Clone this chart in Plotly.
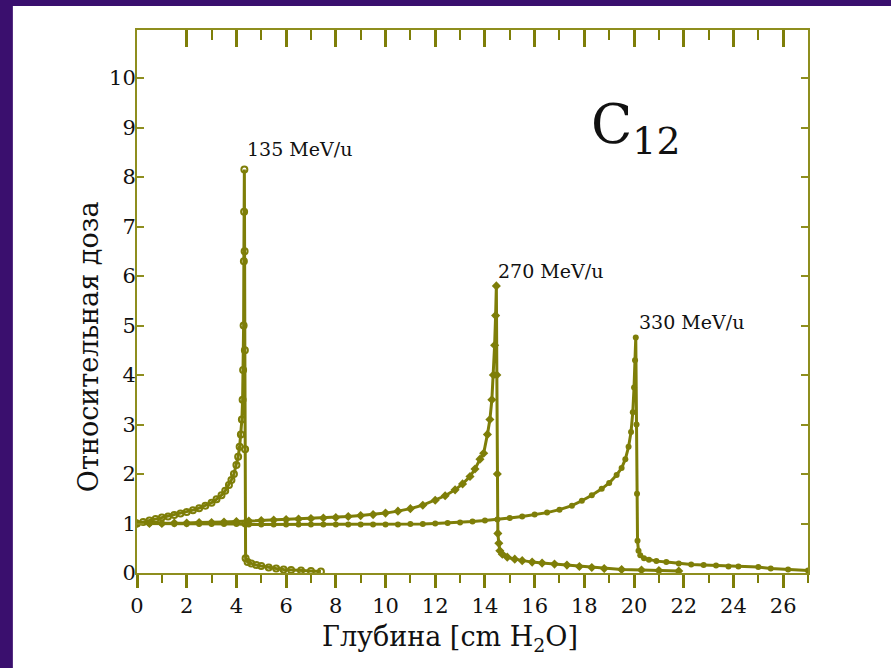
import plotly.graph_objects as go

# ---- data ----
x135 = [0, 0.25, 0.5, 0.75, 1.0, 1.25, 1.5, 1.75, 2.0, 2.25, 2.5, 2.75, 3.0, 3.2, 3.4, 3.55,
        3.7, 3.8, 3.9, 4.0, 4.07, 4.13, 4.18, 4.22, 4.25, 4.27, 4.29, 4.30, 4.31, 4.32, 4.33,
        4.34, 4.35, 4.36, 4.37, 4.45, 4.6, 4.8, 5.0, 5.3, 5.6, 5.9, 6.2, 6.6, 7.0, 7.4]
y135 = [1.00, 1.03, 1.06, 1.09, 1.12, 1.14, 1.17, 1.20, 1.23, 1.27, 1.31, 1.36, 1.42, 1.49, 1.57, 1.66,
        1.78, 1.88, 2.00, 2.18, 2.35, 2.55, 2.80, 3.10, 3.50, 4.10, 5.00, 6.30, 7.30, 8.15, 6.50,
        4.50, 2.50, 1.00, 0.30, 0.22, 0.19, 0.16, 0.14, 0.11, 0.09, 0.07, 0.06, 0.05, 0.04, 0.03]

x270 = [0, 0.5, 1, 1.5, 2, 2.5, 3, 3.5, 4, 4.5, 5, 5.5, 6, 6.5, 7, 7.5, 8, 8.5, 9, 9.5, 10, 10.5,
        11, 11.5, 12, 12.4, 12.8, 13.1, 13.4, 13.6, 13.8, 13.95, 14.1, 14.2, 14.28, 14.34, 14.39,
        14.43, 14.46, 14.48, 14.5, 14.52, 14.56, 14.6, 14.7, 14.9, 15.2, 15.5, 15.9, 16.3, 16.8,
        17.3, 17.8, 18.3, 18.8, 19.5, 20.3, 21.0, 21.8]
y270 = [1.00, 1.00, 1.00, 1.01, 1.01, 1.02, 1.02, 1.03, 1.04, 1.05, 1.06, 1.07, 1.08, 1.09, 1.10, 1.11,
        1.12, 1.14, 1.16, 1.18, 1.21, 1.25, 1.30, 1.37, 1.47, 1.56, 1.68, 1.80, 1.95, 2.10, 2.30,
        2.42, 2.80, 3.10, 3.50, 4.00, 4.60, 5.20, 5.80, 4.00, 2.00, 0.80, 0.60, 0.45, 0.38, 0.32,
        0.28, 0.25, 0.22, 0.20, 0.18, 0.16, 0.13, 0.11, 0.09, 0.07, 0.06, 0.05, 0.04]

x330 = [0, 0.5, 1, 1.5, 2, 2.5, 3, 3.5, 4, 4.5, 5, 5.5, 6, 6.5, 7, 7.5, 8, 8.5, 9, 9.5, 10, 10.5,
        11, 11.5, 12, 12.5, 13, 13.5, 14, 14.5, 15, 15.5, 16, 16.5, 17, 17.5, 17.9, 18.3, 18.7,
        19.0, 19.3, 19.5, 19.65, 19.78, 19.88, 19.95, 20.0, 20.04, 20.07, 20.1, 20.12, 20.14,
        20.18, 20.25, 20.4, 20.6, 20.9, 21.3, 21.8, 22.3, 22.8, 23.3, 23.8, 24.2, 25.0, 25.5,
        26.2, 27.0]
y330 = [1.00, 1.00, 1.00, 0.99, 0.99, 0.99, 0.99, 0.99, 0.99, 0.98, 0.98, 0.98, 0.98, 0.98, 0.98,
        0.98, 0.98, 0.98, 0.98, 0.98, 0.98, 0.98, 0.99, 0.99, 1.00, 1.01, 1.02, 1.04, 1.06, 1.08,
        1.11, 1.14, 1.18, 1.22, 1.28, 1.36, 1.46, 1.57, 1.70, 1.82, 1.98, 2.12, 2.30, 2.55, 2.85,
        3.25, 3.75, 4.30, 4.76, 3.00, 1.60, 0.65, 0.45, 0.36, 0.30, 0.27, 0.24, 0.22, 0.19, 0.17,
        0.16, 0.15, 0.13, 0.13, 0.12, 0.09, 0.07, 0.05]

energy_labels = ["135 MeV/u", "270 MeV/u", "330 MeV/u"]
label_x = [4.35, 14.45, 20.1]
label_y = [8.57, 6.1, 5.08]

x_major_ticks = list(range(0, 28, 2))
x_minor_ticks = list(range(1, 28, 2))
top_major_ticks = list(range(2, 27, 2))
top_minor_ticks = list(range(3, 26, 2))
y_ticks = list(range(0, 11))

OLIVE = "#7e7e08"
AXIS = "#8e8e1e"
PURPLE = "#3a0f6e"
SERIF = "DejaVu Serif"
TEXT = "#111111"

fig = go.Figure()
fig.add_trace(go.Scatter(x=x135, y=y135, mode="lines+markers",
                         line=dict(color=OLIVE, width=3),
                         marker=dict(symbol="circle-open", size=6, color=OLIVE,
                                     line=dict(width=2, color=OLIVE))))
fig.add_trace(go.Scatter(x=x270, y=y270, mode="lines+markers",
                         line=dict(color=OLIVE, width=3),
                         marker=dict(symbol="diamond", size=7, color=OLIVE)))
fig.add_trace(go.Scatter(x=x330, y=y330, mode="lines+markers",
                         line=dict(color=OLIVE, width=3),
                         marker=dict(symbol="circle", size=6, color=OLIVE)))
# invisible trace to activate the top axis
fig.add_trace(go.Scatter(x=[0, 27], y=[0, 0], xaxis="x2", mode="markers",
                         marker=dict(opacity=0), hoverinfo="skip"))

fig.update_layout(
    width=891, height=668,
    margin=dict(l=137, r=83, t=30, b=95),
    paper_bgcolor=PURPLE, plot_bgcolor="white",
    showlegend=False,
    font=dict(family=SERIF, color=TEXT),
    xaxis=dict(range=[0, 27], tickmode="array", tickvals=x_major_ticks,
               ticks="outside", ticklen=13, tickwidth=3, tickcolor=OLIVE,
               minor=dict(tickmode="array", tickvals=x_minor_ticks, ticks="outside",
                          ticklen=8, tickwidth=2, tickcolor=OLIVE),
               showline=True, linecolor=AXIS, linewidth=2, showgrid=False, zeroline=False,
               tickfont=dict(family=SERIF, size=21, color=TEXT)),
    xaxis2=dict(range=[0, 27], overlaying="x", side="top", tickmode="array",
                tickvals=top_major_ticks, ticks="inside", ticklen=17, tickwidth=3,
                tickcolor=OLIVE, showticklabels=False,
                minor=dict(tickmode="array", tickvals=top_minor_ticks, ticks="inside",
                           ticklen=10, tickwidth=2, tickcolor=OLIVE),
                showline=True, linecolor=AXIS, linewidth=2, showgrid=False, zeroline=False),
    yaxis=dict(range=[0, 10.97], tickmode="array", tickvals=y_ticks,
               ticks="inside", ticklen=7, tickwidth=2, tickcolor=AXIS,
               mirror="ticks", showline=True, linecolor=AXIS, linewidth=2,
               showgrid=False, zeroline=False, ticklabelstandoff=-5,
               tickfont=dict(family=SERIF, size=21, color=TEXT)),
)

# white slide panel
fig.add_shape(type="rect", xref="paper", yref="paper", x0=-0.185, x1=1.15, y0=-0.2, y1=1.044,
              fillcolor="white", line=dict(width=0), layer="below")

for t, xx, yy in zip(energy_labels, label_x, label_y):
    fig.add_annotation(x=xx, y=yy, text=t, showarrow=False, xanchor="left", yanchor="middle",
                       font=dict(family=SERIF, size=19, color=TEXT))

fig.add_annotation(x=18.2, y=9.0, text="C<sub>12</sub>", showarrow=False, xanchor="left",
                   yanchor="middle", font=dict(family=SERIF, size=54, color=TEXT))

fig.add_annotation(xref="paper", yref="paper", x=0.466, y=-0.12, text="Глубина [cm H<sub>2</sub>O]",
                   showarrow=False, xanchor="center", yanchor="middle",
                   font=dict(family=SERIF, size=27, color=TEXT))
fig.add_annotation(xref="paper", yref="paper", x=-0.073, y=0.416, text="Относительная доза",
                   textangle=-90, showarrow=False, xanchor="center", yanchor="middle",
                   font=dict(family=SERIF, size=27, color=TEXT))

fig.write_html("out.html",
               config={"displayModeBar": False},
               post_script="document.body.style.margin='0px';"
                           "document.body.style.background='" + PURPLE + "';")
